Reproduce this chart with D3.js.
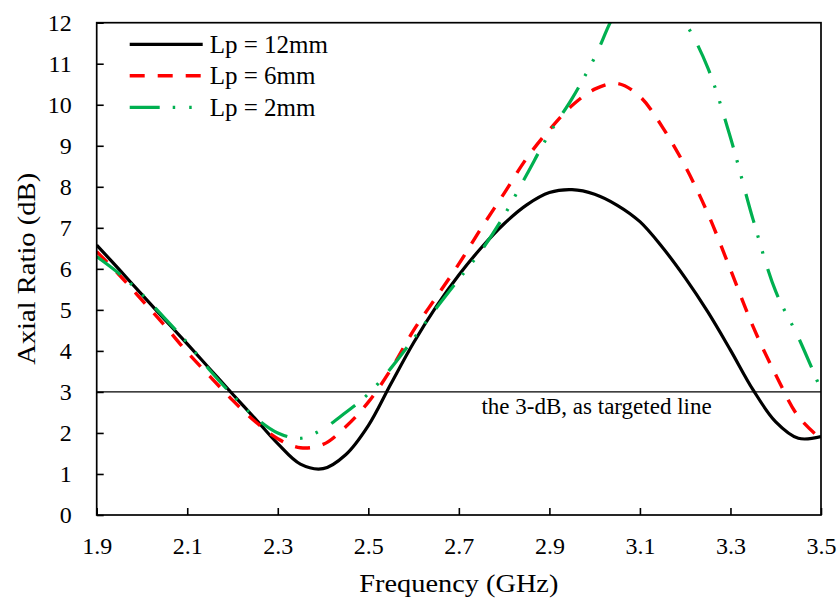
<!DOCTYPE html>
<html>
<head>
<meta charset="utf-8">
<script src="https://cdn.jsdelivr.net/npm/d3@7"></script>
<style>
  body { margin: 0; background: #fff; }
</style>
</head>
<body>
<div id="vis"></div>
<script>
// frequency grid (GHz) shared by all three curves
var freq = [1.90, 1.95, 2.00, 2.05, 2.10, 2.15, 2.20, 2.25, 2.30, 2.35, 2.40,
            2.45, 2.50, 2.55, 2.60, 2.65, 2.70, 2.75, 2.80, 2.85, 2.90, 2.95,
            3.00, 3.05, 3.10, 3.15, 3.20, 3.25, 3.30, 3.35, 3.40, 3.45, 3.50];

// axial ratio (dB)
var ar12 = [6.58, 5.98, 5.37, 4.77, 4.17, 3.56, 2.95, 2.35, 1.74, 1.24, 1.13,
            1.47, 2.18, 3.20, 4.20, 5.08, 5.85, 6.52, 7.10, 7.56, 7.86, 7.93,
            7.82, 7.55, 7.15, 6.52, 5.78, 4.95, 4.02, 3.05, 2.27, 1.87, 1.91];
var ar6  = [6.42, 5.85, 5.24, 4.62, 3.97, 3.38, 2.80, 2.28, 1.86, 1.64, 1.72,
            2.15, 2.75, 3.55, 4.50, 5.31, 6.12, 7.00, 7.84, 8.70, 9.39, 9.98,
            10.38, 10.52, 10.20, 9.45, 8.50, 7.35, 5.98, 4.59, 3.42, 2.40, 1.85];
var ar2  = [6.30, 5.88, 5.38, 4.80, 4.20, 3.53, 2.92, 2.38, 2.00, 1.87, 2.10,
            2.50, 2.95, 3.58, 4.30, 5.04, 5.75, 6.45, 7.30, 8.30, 9.30, 10.15,
            11.15, 12.30, 12.80, 12.70, 12.00, 10.90, 9.20, 7.20, 5.45, 4.33, 3.05];

var seriesNames = ["Lp = 12mm", "Lp = 6mm", "Lp = 2mm"];
var xTicks = [1.9, 2.1, 2.3, 2.5, 2.7, 2.9, 3.1, 3.3, 3.5];
var yTicks = [0, 1, 2, 3, 4, 5, 6, 7, 8, 9, 10, 11, 12];
var targetLevel = 3;
var targetLabel = "the 3-dB, as targeted line";

// line styles per series
var styles = [
  {color: "#000000", width: 3.2, dash: null},
  {color: "#ff0000", width: 3.4, dash: "15,13"},
  {color: "#00b050", width: 3.2, dash: "30,13,2.5,14,2.5,16"}
];

var serif = '"Liberation Serif", "DejaVu Serif", "Times New Roman", serif';

var chart = {};
chart.margin = {top: 22.7, right: 19, bottom: 87, left: 96.7};
chart.fullWidth = 840;
chart.fullHeight = 602;
chart.width = chart.fullWidth - chart.margin.left - chart.margin.right;
chart.height = chart.fullHeight - chart.margin.top - chart.margin.bottom;

chart.x = d3.scaleLinear().domain([1.9, 3.5]).range([0, chart.width]);
chart.y = d3.scaleLinear().domain([0, 12]).range([chart.height, 0]);

var svg = d3.select("#vis").append("svg")
  .attr("width", chart.fullWidth)
  .attr("height", chart.fullHeight)
  .style("font-family", serif);

var g = svg.append("g")
  .attr("transform", "translate(" + chart.margin.left + "," + chart.margin.top + ")");

svg.append("defs").append("clipPath").attr("id", "plotclip")
  .append("rect").attr("width", chart.width).attr("height", chart.height);

// axes with inward ticks
var xAxis = d3.axisBottom(chart.x).tickValues(xTicks).tickSizeInner(-7).tickSizeOuter(0)
  .tickFormat(d3.format(".1f")).tickPadding(22);
var yAxis = d3.axisLeft(chart.y).tickValues(yTicks).tickSizeInner(-7).tickSizeOuter(0)
  .tickPadding(25);

var gx = g.append("g").attr("transform", "translate(0," + chart.height + ")").call(xAxis);
var gy = g.append("g").call(yAxis);
gx.select(".domain").remove();
gy.select(".domain").remove();
g.selectAll(".tick line").attr("stroke", "#000").attr("stroke-width", 1.6);
g.selectAll(".tick text")
  .attr("fill", "#000")
  .style("font-family", serif)
  .style("font-size", "24px");
gx.selectAll(".tick text").attr("dy", "0.71em");

// 3-dB target line
g.append("line")
  .attr("x1", 0).attr("x2", chart.width)
  .attr("y1", chart.y(targetLevel)).attr("y2", chart.y(targetLevel))
  .attr("stroke", "#000").attr("stroke-width", 1.2);

g.append("text")
  .attr("x", chart.x(2.75)).attr("y", chart.y(targetLevel) + 22)
  .style("font-family", serif)
  .style("font-size", "23px")
  .text(targetLabel);

// curves
var line = d3.line()
  .x(function(d) { return chart.x(d.x); })
  .y(function(d) { return chart.y(d.y); })
  .curve(d3.curveCatmullRom.alpha(0.5));

var allSeries = [ar12, ar6, ar2].map(function(vals) {
  return vals.map(function(v, k) { return {x: freq[k], y: v}; });
});

g.append("g").attr("clip-path", "url(#plotclip)")
  .selectAll("path").data(allSeries).enter().append("path")
  .attr("d", line)
  .attr("fill", "none")
  .attr("stroke", function(d, i) { return styles[i].color; })
  .attr("stroke-width", function(d, i) { return styles[i].width; })
  .attr("stroke-dasharray", function(d, i) { return styles[i].dash; });

// plot frame
g.append("rect")
  .attr("width", chart.width).attr("height", chart.height)
  .attr("fill", "none").attr("stroke", "#000").attr("stroke-width", 1.7);

// legend
var legend = g.selectAll("g.legend").data(seriesNames).enter().append("g")
  .attr("class", "legend")
  .attr("transform", function(d, i) { return "translate(33," + (21.6 + i * 31.5) + ")"; });

legend.append("line")
  .attr("x1", 0).attr("x2", 73)
  .attr("stroke", function(d, i) { return styles[i].color; })
  .attr("stroke-width", function(d, i) { return styles[i].width; })
  .attr("stroke-dasharray", function(d, i) { return styles[i].dash; });

legend.append("text")
  .attr("x", 80).attr("y", 8.5)
  .style("font-family", serif)
  .style("font-size", "25px")
  .text(function(d) { return d; });

// axis titles
svg.append("text")
  .attr("x", chart.margin.left + chart.width / 2).attr("y", 592)
  .attr("text-anchor", "middle")
  .attr("textLength", 199).attr("lengthAdjust", "spacingAndGlyphs")
  .style("font-family", serif)
  .style("font-size", "25px")
  .text("Frequency (GHz)");

svg.append("text")
  .attr("transform", "translate(35," + (chart.margin.top + chart.height / 2) + ") rotate(-90)")
  .attr("text-anchor", "middle")
  .attr("textLength", 192).attr("lengthAdjust", "spacingAndGlyphs")
  .style("font-family", serif)
  .style("font-size", "25px")
  .text("Axial Ratio (dB)");
</script>
</body>
</html>
